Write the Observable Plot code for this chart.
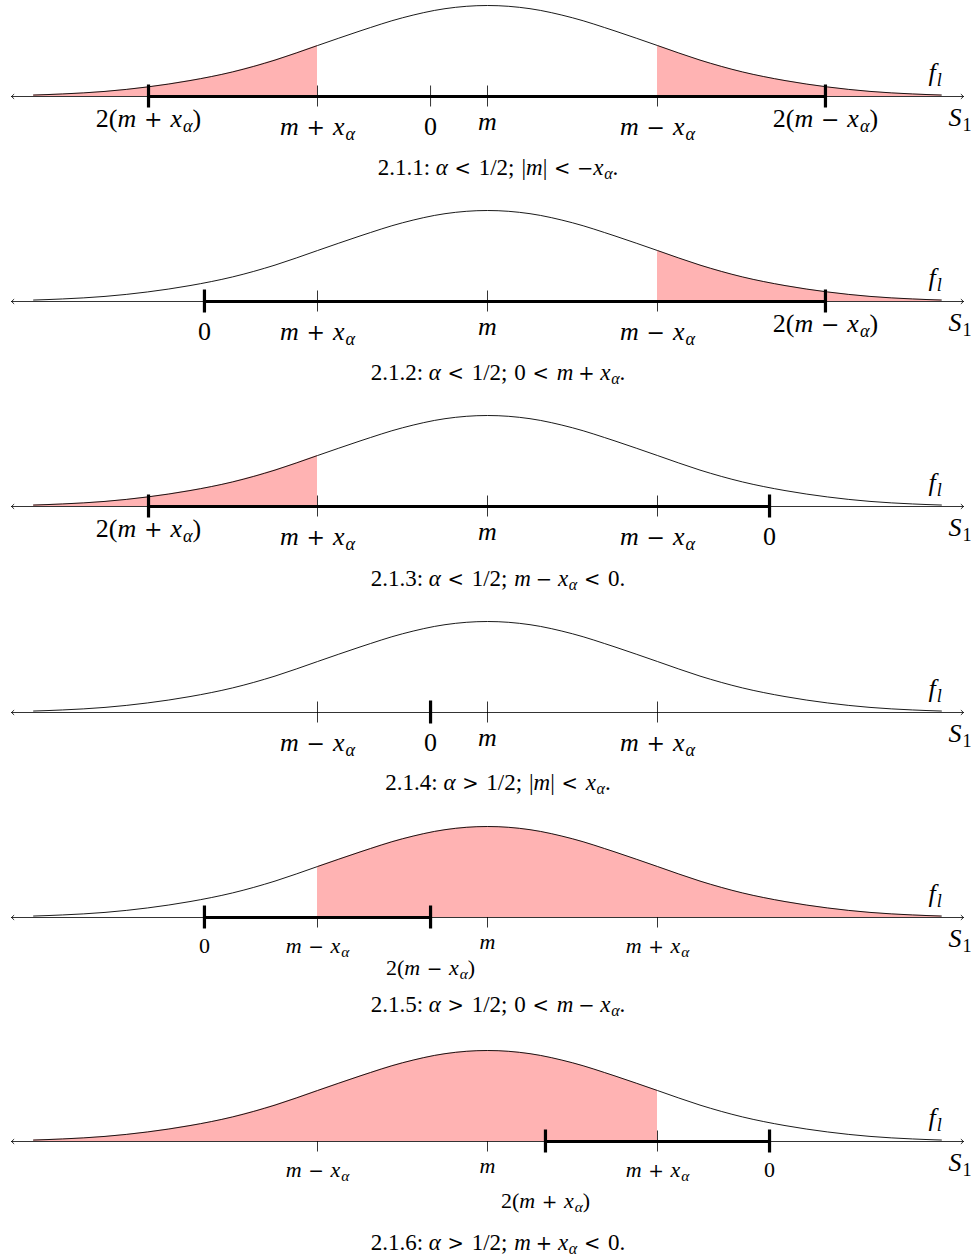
<!DOCTYPE html>
<html><head><meta charset="utf-8">
<script src="https://cdn.jsdelivr.net/npm/d3@7"></script>
<script src="https://cdn.jsdelivr.net/npm/@observablehq/plot@0.6"></script>
<style>
html,body{margin:0;padding:0;background:#fff;overflow:hidden;}
#root{position:relative;width:979px;height:1260px;overflow:hidden;font-family:"Liberation Serif","Times New Roman",serif;color:#000;}
.panel{position:absolute;left:0;}
.cap{position:absolute;left:0;width:996px;text-align:center;font-size:23px;line-height:22px;white-space:nowrap;}
.cap .it{font-style:italic;}
.cap .op{font-family:"DejaVu Serif",serif;font-size:0.85em;}
.cap .sub{font-size:0.7em;position:relative;top:0.22em;}
</style></head><body><div id="root"></div>
<script>
// ---------- data ----------
// curve samples: position in units where m = 0 and |x_α| = 1; height relative to peak
const curveT = [-2.67,-2.5,-2.25,-2,-1.75,-1.5,-1.25,-1,-0.75,-0.5,-0.25,0,0.25,0.5,0.75,1,1.25,1.5,1.75,2,2.25,2.5,2.67];
const curveF = [0.016,0.028,0.056,0.105,0.175,0.27,0.40,0.56,0.72,0.865,0.965,1,0.965,0.865,0.72,0.56,0.40,0.27,0.175,0.105,0.056,0.028,0.016];

// thin ticks per panel
const thinPos = [[-1,-0.335,0,1],[-1,0,1],[-1,0,1],[-1,0,1],[-1,0,1],[-1,0,1]];
const thinLabels = [
  ["m + x_α","0","m","m − x_α"],
  ["m + x_α","m","m − x_α"],
  ["m + x_α","m","m − x_α"],
  ["m − x_α","m","m + x_α"],
  ["m − x_α","m","m + x_α"],
  ["m − x_α","m","m + x_α"]
];
// thick ticks per panel (two of them bound the thick interval)
const thickPos = [[-1.994,1.988],[-1.665,1.988],[-1.994,1.659],[-0.335],[-1.665,-0.335],[0.341,1.659]];
const thickLabels = [
  ["2(m + x_α)","2(m − x_α)"],
  ["0","2(m − x_α)"],
  ["2(m + x_α)","0"],
  ["0"],
  ["0","2(m − x_α)"],
  ["2(m + x_α)","0"]
];
// shaded ranges per panel
const shadeRanges = [[[-2.67,-1],[1,2.67]],[[1,2.67]],[[-2.67,-1]],[],[[-1,2.67]],[[-2.67,1]]];
// captions
const captionIds = ["2.1.1","2.1.2","2.1.3","2.1.4","2.1.5","2.1.6"];
const captionMath = [
  "α < 1/2; |m| < −x_α",
  "α < 1/2; 0 < m + x_α",
  "α < 1/2; m − x_α < 0",
  "α > 1/2; |m| < x_α",
  "α > 1/2; 0 < m − x_α",
  "α > 1/2; m + x_α < 0"
];
const fLabel = "f_l";
const sLabel = "S_1";

// ---------- layout ----------
const W = 979, AX = 96, H = 175;
const axisY = [96, 300.5, 506, 711.5, 917, 1140.5];
const capY = [168, 373, 579, 783, 1005, 1243];
const PX = 1/91; // one pixel in curve-height units

// ---------- math text helpers ----------
function tokenize(str, binGap, relGap){
  const out = []; let prev = "start";
  const ch = [...str];
  for (let i=0;i<ch.length;i++){
    let c = ch[i];
    if (c === " ") continue;
    let sub = false;
    if (c === "_"){ sub = true; c = ch[++i]; }
    let type, italic = false, op = false;
    if (/[a-zA-Zα-ω]/.test(c)){ type="ord"; italic=true; }
    else if (/[0-9]/.test(c)) type="ord";
    else if (c==="+"||c==="−"){ op = true; type = ["start","rel","open","bin","punct"].includes(prev) ? "ord" : "bin"; }
    else if (c==="<"||c===">"){ op = true; type="rel"; }
    else if (c==="(") type="open";
    else if (c===")") type="close";
    else if (c===";") type="punct";
    else type="ord";
    let gap = 0;
    if (type==="bin"||prev==="bin") gap = binGap;
    if (type==="rel"||prev==="rel") gap = relGap;
    if (prev==="punct") gap = 0.3;
    if (sub) gap = 0.04;
    out.push({c, type, italic, sub, gap, op});
    prev = type;
  }
  return out;
}
const svgNS = "http://www.w3.org/2000/svg";
function mathSvg(textEl, fs){
  const str = textEl.textContent;
  textEl.textContent = "";
  let inSub = false;
  for (const tk of tokenize(str, 0.3, 0.3)){
    const ts = document.createElementNS(svgNS, "tspan");
    ts.textContent = tk.c;
    ts.setAttribute("font-style", tk.italic ? "italic" : "normal");
    if (tk.op){ ts.setAttribute("font-family", "DejaVu Serif"); ts.setAttribute("font-size", (0.85*fs).toFixed(2)); }
    if (tk.gap) ts.setAttribute("dx", (tk.gap*fs).toFixed(2));
    if (tk.sub){
      ts.setAttribute("font-size", (0.7*fs).toFixed(2));
      if (!inSub) ts.setAttribute("dy", (0.22*fs).toFixed(2));
    } else if (inSub) ts.setAttribute("dy", (-0.22*fs).toFixed(2));
    inSub = tk.sub;
    textEl.appendChild(ts);
  }
}
function mathHtml(str){
  const frag = document.createDocumentFragment();
  for (const tk of tokenize(str, 0.25, 0.34)){
    const s = document.createElement("span");
    s.textContent = tk.c;
    if (tk.italic) s.classList.add("it");
    if (tk.op) s.classList.add("op");
    if (tk.sub) s.classList.add("sub");
    if (tk.gap) s.style.marginLeft = tk.gap + "em";
    frag.appendChild(s);
  }
  return frag;
}

// ---------- panels ----------
const curve = curveT.map((t,i)=>({t, f: curveF[i]}));
const root = document.getElementById("root");

function labelDy(label, small, secondary, p){
  if (secondary) return p === 4 ? 57 : 66;
  if (small) return label === "m" ? 31 : 35;
  if (label.startsWith("2(")) return 30;
  if (label === "m") return 33;
  return 38;
}

for (let p=0;p<6;p++){
  const small = p >= 4;
  const fs = small ? 22 : 26;
  const thin = thinPos[p].map((t,i)=>({t, label: thinLabels[p][i], y1:-10.5*PX, y2:10.5*PX}));
  const thick = thickPos[p].map((t,i)=>({t, label: thickLabels[p][i], y1:-11.5*PX, y2:11.5*PX, secondary: small && thickLabels[p][i].startsWith("2(")}));
  const interval = thick.length === 2 ? [{x1: thick[0].t, x2: thick[1].t, y:0}] : [];
  const shades = shadeRanges[p].map(([a,b]) => curve.filter(d => d.t >= a && d.t <= b));
  const axisArrows = [{x1:0, x2:2.8, y:0},{x1:0, x2:-2.8, y:0}];

  const labelMarks = [...thin, ...thick].map(d => Plot.text([d], {
    x: "t", y: () => 0, text: "label",
    dy: labelDy(d.label, small, d.secondary, p),
    lineAnchor: "bottom", textAnchor: "middle",
    fontFamily: "Liberation Serif", fontSize: fs, fill: "#000"
  }));

  const svg = Plot.plot({
    width: W, height: H,
    marginTop: 0, marginBottom: 0, marginLeft: 0, marginRight: 0,
    x: {domain: [-487/170, 492/170], range: [0, W], axis: null},
    y: {domain: [0, 1], range: [AX, 5], axis: null},
    style: {background: "transparent", overflow: "visible"},
    marks: [
      Plot.ruleX(thin, {x: "t", y1: "y1", y2: "y2", stroke: "#000", strokeWidth: 0.8}),
      Plot.arrow(axisArrows, {x1: "x1", x2: "x2", y1: "y", y2: "y", stroke: "#000", strokeWidth: 0.8, headLength: 6, headAngle: 85}),
      ...shades.map(s => Plot.areaY(s, {x: "t", y: "f", fill: "#ffb3b3", curve: "monotone-x"})),
      Plot.line(curve, {x: "t", y: "f", stroke: "#000", strokeWidth: 0.9, curve: "monotone-x"}),
      Plot.ruleY(interval, {x1: "x1", x2: "x2", y: "y", stroke: "#000", strokeWidth: 3.2}),
      Plot.ruleX(thick, {x: "t", y1: "y1", y2: "y2", stroke: "#000", strokeWidth: 3.2}),
      ...labelMarks,
      Plot.text([{t: 2.594, label: fLabel}], {x: "t", y: () => 0, text: "label", dy: -16, lineAnchor: "bottom", textAnchor: "start", fontFamily: "Liberation Serif", fontSize: 26, fill: "#000"}),
      Plot.text([{t: 2.712, label: sLabel}], {x: "t", y: () => 0, text: "label", dy: 29, lineAnchor: "bottom", textAnchor: "start", fontFamily: "Liberation Serif", fontSize: 26, fill: "#000"})
    ]
  });
  svg.classList.add("panel");
  svg.style.position = "absolute";
  svg.style.left = "0px";
  svg.style.top = (axisY[p] - AX) + "px";
  root.appendChild(svg);
  for (const t of svg.querySelectorAll("text")){
    const g = t.closest("[font-size]");
    const f = g ? parseFloat(g.getAttribute("font-size")) : fs;
    mathSvg(t, f);
  }

  const cap = document.createElement("div");
  cap.className = "cap";
  cap.style.top = (capY[p] - 11) + "px";
  cap.appendChild(document.createTextNode(captionIds[p] + ": "));
  cap.appendChild(mathHtml(captionMath[p]));
  cap.appendChild(document.createTextNode("."));
  root.appendChild(cap);
}
</script>
</body></html>
